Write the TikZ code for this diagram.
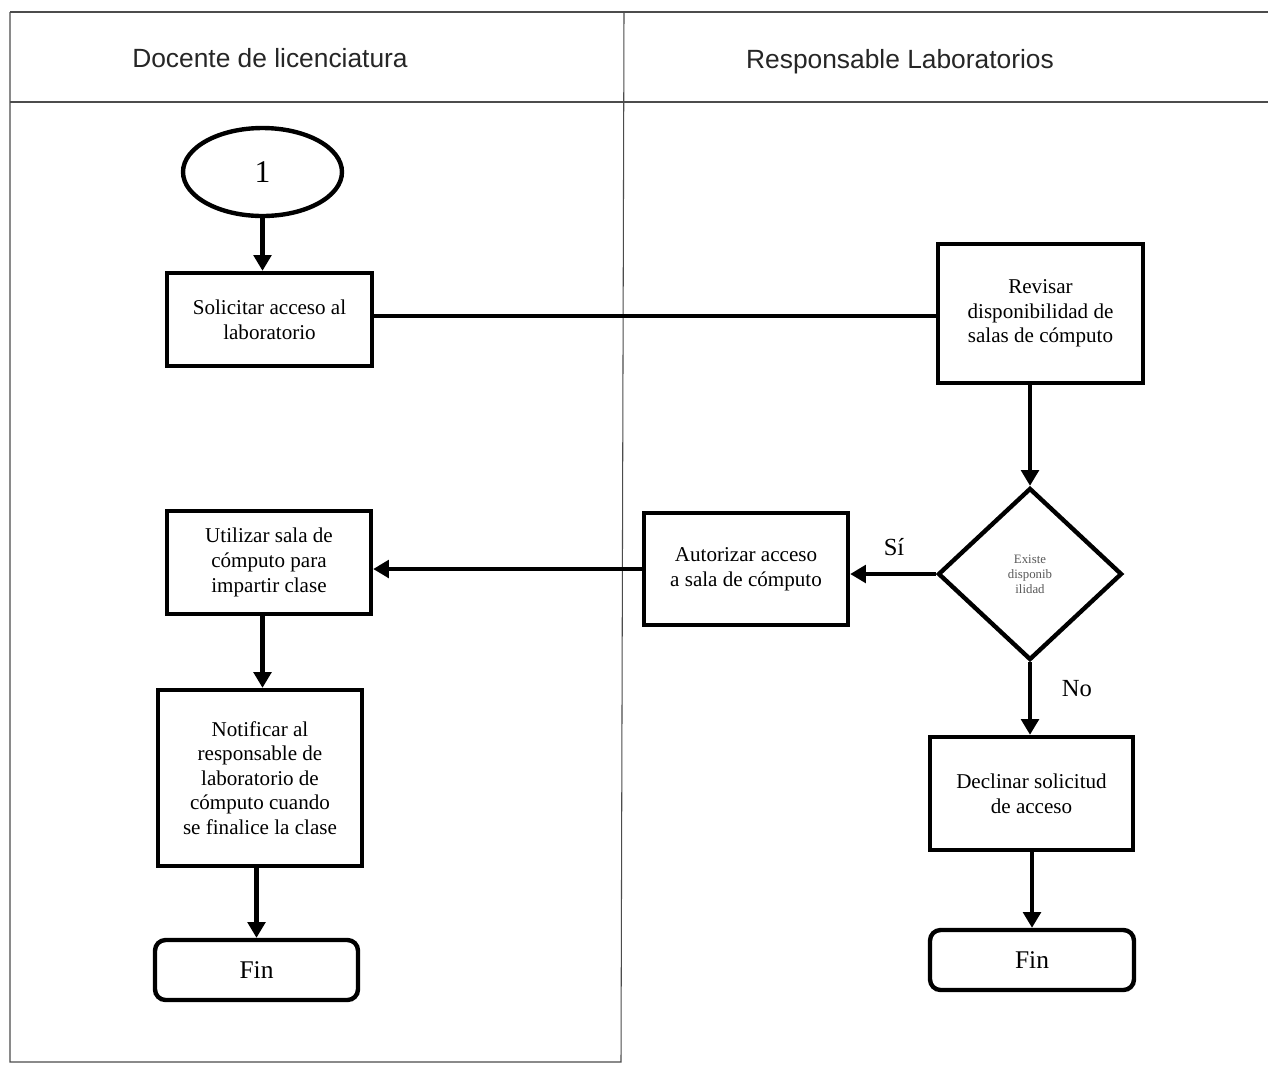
\documentclass[tikz,border=0pt]{standalone}
\usepackage{fontspec}
\setmainfont{Liberation Serif}
\newfontfamily\hdr{Liberation Sans}
\usetikzlibrary{shapes.geometric,arrows.meta}
\tikzset{
  lane/.style={draw=black!70, line width=0.6pt},
  box/.style={draw, line width=2.5pt, rectangle, align=center, inner sep=2pt,
    font=\fontsize{12}{14}\selectfont},
  term/.style={box, rounded corners=6pt, font=\fontsize{14.5}{16}\selectfont},
  dec/.style={draw, line width=2.5pt, diamond, inner sep=0pt, align=center,
    font=\fontsize{7.3}{8.6}\selectfont, text=black!65},
  flow/.style={line width=2.5pt, -{Triangle[length=9pt,width=10pt]}},
  plain/.style={line width=2.5pt},
  lbl/.style={font=\fontsize{14}{16}\selectfont},
  hd/.style={font=\hdr\fontsize{15}{17}\selectfont, text=black!85}
}
\begin{document}
\begin{tikzpicture}[x=0.02cm,y=-0.02cm]
\useasboundingbox[fill=white] (0,0) rectangle (1268,1066);
% swimlane frame
\coordinate (tl) at (10,12);
\coordinate (tr) at (1268,12);
\coordinate (hl) at (10,102);
\coordinate (hr) at (1268,102);
\coordinate (bl) at (10,1062);
\coordinate (bm) at (621,1062);
\coordinate (tm) at (624,12);
\draw[lane] (tl) -- (tr);
\draw[lane] (hl) -- (hr);
\draw[lane] (tl) -- (bl) -- (bm) -- (tm);
\node[hd] (h1) at (270,58) {Docente de licenciatura};
\node[hd] (h2) at (900,62) {Responsable Laboratorios};
% nodes
\node[draw, ellipse, line width=2.5pt, minimum width=3.18cm, minimum height=1.76cm,
  font=\fontsize{18}{20}\selectfont] (one) at (262.5,172) {1};
\node[box, minimum width=4.1cm, minimum height=1.86cm] (sol) at (269.5,319.5)
  {Solicitar acceso al\\laboratorio};
\node[box, minimum width=4.1cm, minimum height=2.78cm] (rev) at (1040.5,313.5)
  {Revisar\\disponibilidad de\\salas de cómputo};
\node[dec, minimum width=3.68cm, minimum height=3.44cm] (dia) at (1030,574)
  {Existe\\disponib\\ilidad};
\node[box, minimum width=4.08cm, minimum height=2.24cm] (aut) at (746,569)
  {Autorizar acceso\\a sala de cómputo};
\node[box, minimum width=4.08cm, minimum height=2.06cm] (uti) at (269,562.5)
  {Utilizar sala de\\cómputo para\\impartir clase};
\node[box, minimum width=4.08cm, minimum height=3.52cm] (not) at (260,778)
  {Notificar al\\responsable de\\laboratorio de\\cómputo cuando\\se finalice la clase};
\node[term, minimum width=4.06cm, minimum height=1.2cm] (fin1) at (256.5,970) {Fin};
\node[box, minimum width=4.06cm, minimum height=2.26cm] (dec) at (1031.5,793.5)
  {Declinar solicitud\\de acceso};
\node[term, minimum width=4.08cm, minimum height=1.2cm] (fin2) at (1032,960) {Fin};
% connectors
\draw[flow] (one.south) -- (one.south |- sol.north);
\draw[plain] (sol.east |- 0,316) -- (rev.west |- 0,316);
\draw[flow] (rev.south -| dia.north) -- (dia.north);
\draw[flow] (dia.west) -- (dia.west -| aut.east);
\draw[flow] (aut.west) -- (aut.west -| uti.east);
\draw[flow] (uti.south -| one.south) -- (one.south |- not.north);
\draw[flow] (not.south -| fin1.north) -- (fin1.north);
\draw[flow] (dia.south) -- (dia.south |- dec.north);
\draw[flow] (dec.south -| fin2.north) -- (fin2.north);
\node[lbl] (si) at (894,547) {Sí};
\node[lbl] (no) at (1077,689) {No};
\end{tikzpicture}
\end{document}
